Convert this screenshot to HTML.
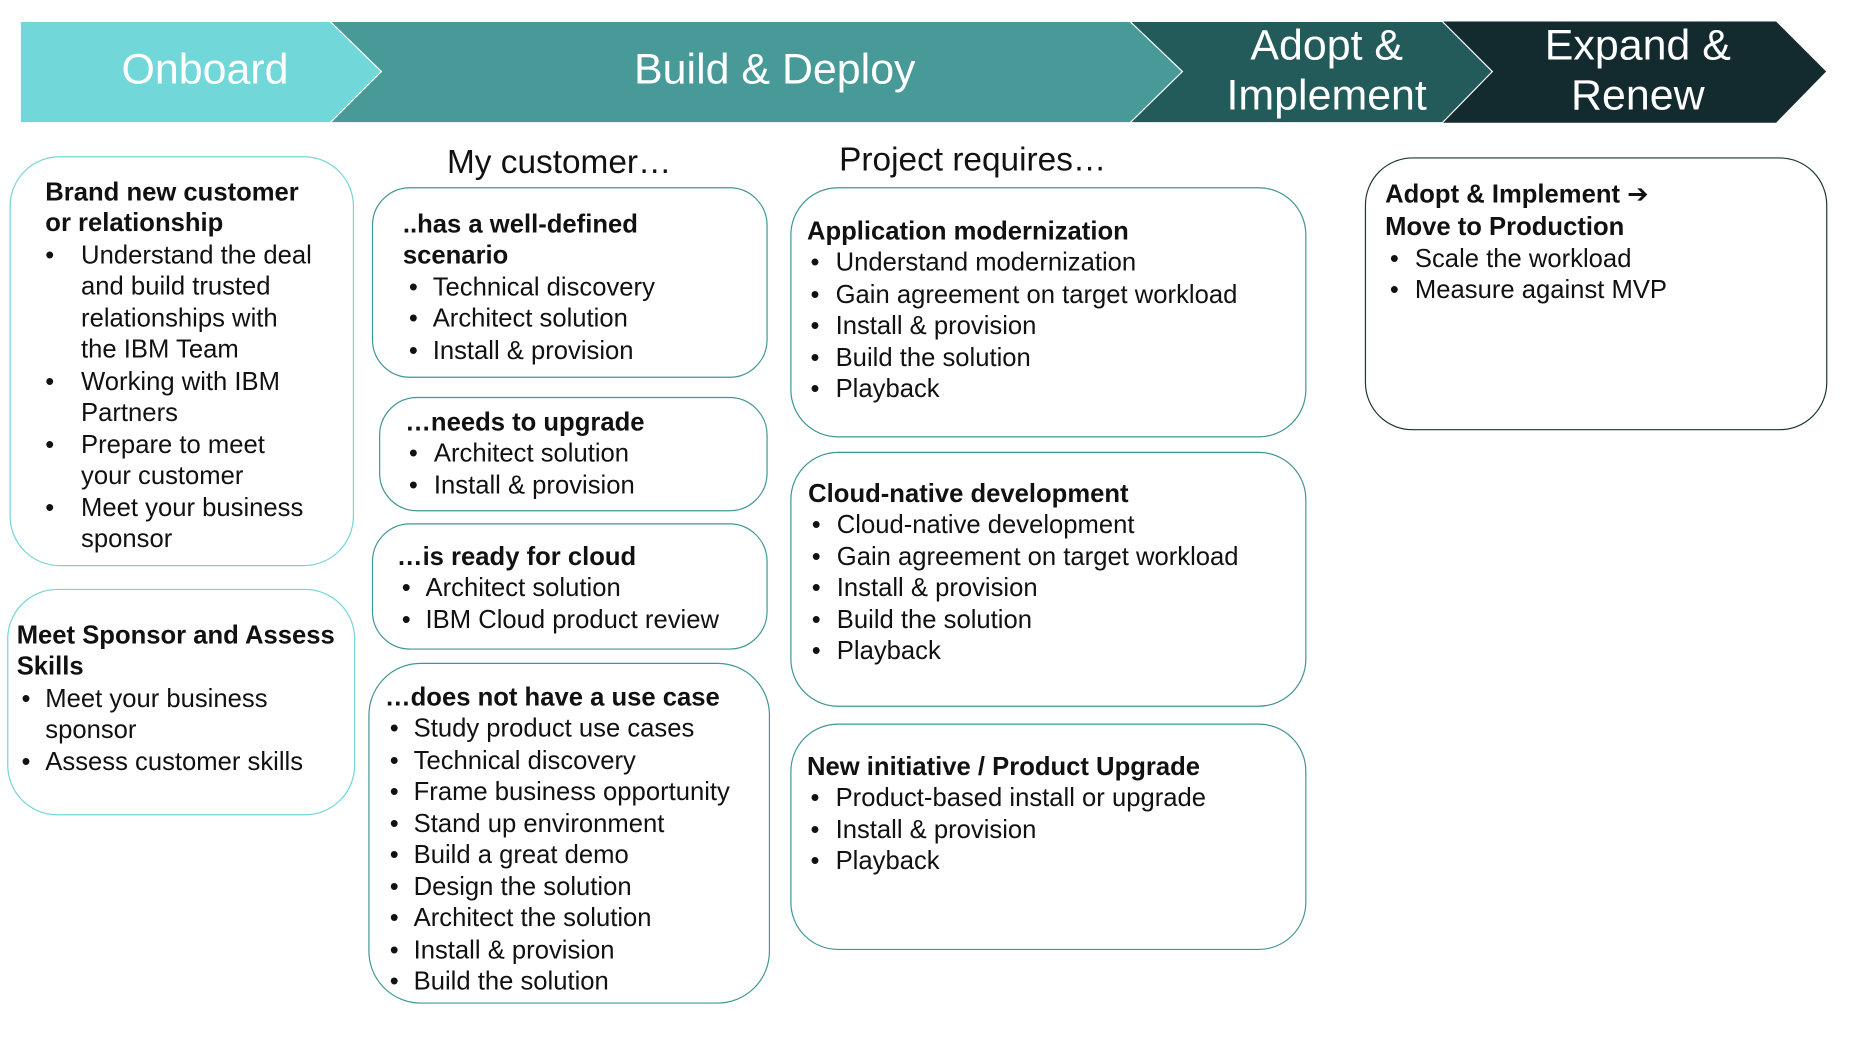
<!DOCTYPE html>
<html><head><meta charset="utf-8"><style>
html,body{margin:0;padding:0;background:#fff;}
body{width:1868px;height:1038px;overflow:hidden;position:relative;}
#s{position:absolute;left:0;top:0;width:1548px;height:870px;transform:scale(1.192);transform-origin:0 0;font-family:"Liberation Sans",sans-serif;color:#111;}
.box{position:absolute;box-sizing:border-box;background:#fff;}
.l{border:1.6px solid #74d5d6;border-radius:42px;}
.m{border:1.6px solid #3f9794;border-radius:32px;}
.d{border:1.6px solid #1d3535;border-radius:40px;}
.t{position:absolute;font-size:21.5px;line-height:26.5px;white-space:nowrap;margin-top:1.5px;}
.t b{display:block;}
.t ul{list-style:none;margin:0;padding:0;}
.t li{position:relative;}
.t li:before{content:"•";position:absolute;left:var(--b);}
.h{position:absolute;font-size:28px;white-space:nowrap;}
.bn{position:absolute;color:#fff;font-size:36px;text-align:center;line-height:42px;}
</style></head><body><div id="s">
<svg width="1548" height="120" style="position:absolute;left:0;top:0">
<polygon points="1150,18 1490,18 1532,60 1490,103 1150,103" fill="#132a2e"/>
<polygon points="900,18 1210,18 1252,60 1210,103 900,103" fill="#235b5b" stroke="#fff" stroke-width="1"/>
<polygon points="250,18 948,18 992,60 948,103 250,103" fill="#489a98" stroke="#fff" stroke-width="1"/>
<polygon points="17,18 277,18 320,60 277,103 17,103" fill="#72d7d8" stroke="#fff" stroke-width="1"/>
</svg>
<div class="bn" style="left:17px;width:310px;top:37px">Onboard</div>
<div class="bn" style="left:450px;width:400px;top:37px">Build &amp; Deploy</div>
<div class="bn" style="left:990px;width:246px;top:17px">Adopt &amp;<br>Implement</div>
<div class="bn" style="left:1250px;width:248px;top:17px">Expand &amp;<br>Renew</div>

<div class="h" style="left:375px;top:120px">My customer…</div>
<div class="h" style="left:704px;top:118px">Project requires…</div>

<div class="box l" style="left:8px;top:131px;width:289px;height:344px"></div>
<div class="t" style="left:38px;top:146px;--b:0px"><b>Brand new customer</b><b>or relationship</b>
<ul style="padding-left:30px"><li style="--b:-30px">Understand the deal<br>and build trusted<br>relationships with<br>the IBM Team</li><li style="--b:-30px">Working with IBM<br>Partners</li><li style="--b:-30px">Prepare to meet<br>your customer</li><li style="--b:-30px">Meet your business<br>sponsor</li></ul></div>

<div class="box l" style="left:6px;top:494px;width:292px;height:190px"></div>
<div class="t" style="left:14px;top:518px"><b>Meet Sponsor and Assess</b><b>Skills</b>
<ul style="padding-left:24px"><li style="--b:-20px">Meet your business<br>sponsor</li><li style="--b:-20px">Assess customer skills</li></ul></div>

<div class="box m" style="left:312px;top:157px;width:332px;height:160px"></div>
<div class="t" style="left:338px;top:173px"><b>..has a well-defined</b><b>scenario</b>
<ul style="padding-left:25px"><li style="--b:-20px">Technical discovery</li><li style="--b:-20px">Architect solution</li><li style="--b:-20px">Install &amp; provision</li></ul></div>

<div class="box m" style="left:318px;top:333px;width:326px;height:96px"></div>
<div class="t" style="left:340px;top:339px"><b>…needs to upgrade</b>
<ul style="padding-left:24px"><li style="--b:-21px">Architect solution</li><li style="--b:-21px">Install &amp; provision</li></ul></div>

<div class="box m" style="left:312px;top:439px;width:332px;height:106px"></div>
<div class="t" style="left:333px;top:452px"><b>…is ready for cloud</b>
<ul style="padding-left:24px"><li style="--b:-20px">Architect solution</li><li style="--b:-20px">IBM Cloud product review</li></ul></div>

<div class="box m" style="left:309px;top:556px;width:337px;height:286px;border-radius:44px"></div>
<div class="t" style="left:323px;top:570px"><b>…does not have a use case</b>
<ul style="padding-left:24px"><li style="--b:-20px">Study product use cases</li><li style="--b:-20px">Technical discovery</li><li style="--b:-20px">Frame business opportunity</li><li style="--b:-20px">Stand up environment</li><li style="--b:-20px">Build a great demo</li><li style="--b:-20px">Design the solution</li><li style="--b:-20px">Architect the solution</li><li style="--b:-20px">Install &amp; provision</li><li style="--b:-20px">Build the solution</li></ul></div>

<div class="box m" style="left:663px;top:157px;width:433px;height:210px;border-radius:40px"></div>
<div class="t" style="left:677px;top:179px"><b>Application modernization</b>
<ul style="padding-left:24px"><li style="--b:-21px">Understand modernization</li><li style="--b:-21px">Gain agreement on target workload</li><li style="--b:-21px">Install &amp; provision</li><li style="--b:-21px">Build the solution</li><li style="--b:-21px">Playback</li></ul></div>

<div class="box m" style="left:663px;top:379px;width:433px;height:214px;border-radius:40px"></div>
<div class="t" style="left:678px;top:399px"><b>Cloud-native development</b>
<ul style="padding-left:24px"><li style="--b:-21px">Cloud-native development</li><li style="--b:-21px">Gain agreement on target workload</li><li style="--b:-21px">Install &amp; provision</li><li style="--b:-21px">Build the solution</li><li style="--b:-21px">Playback</li></ul></div>

<div class="box m" style="left:663px;top:607px;width:433px;height:190px;border-radius:40px"></div>
<div class="t" style="left:677px;top:628px"><b>New initiative / Product Upgrade</b>
<ul style="padding-left:24px"><li style="--b:-21px">Product-based install or upgrade</li><li style="--b:-21px">Install &amp; provision</li><li style="--b:-21px">Playback</li></ul></div>

<div class="box d" style="left:1145px;top:132px;width:388px;height:229px"></div>
<div class="t" style="left:1162px;top:148px"><b>Adopt &amp; Implement <span style="font-family:'DejaVu Sans',sans-serif">➔</span></b><b>Move to Production</b>
<ul style="padding-left:25px"><li style="--b:-21px">Scale the workload</li><li style="--b:-21px">Measure against MVP</li></ul></div>
</div></body></html>
